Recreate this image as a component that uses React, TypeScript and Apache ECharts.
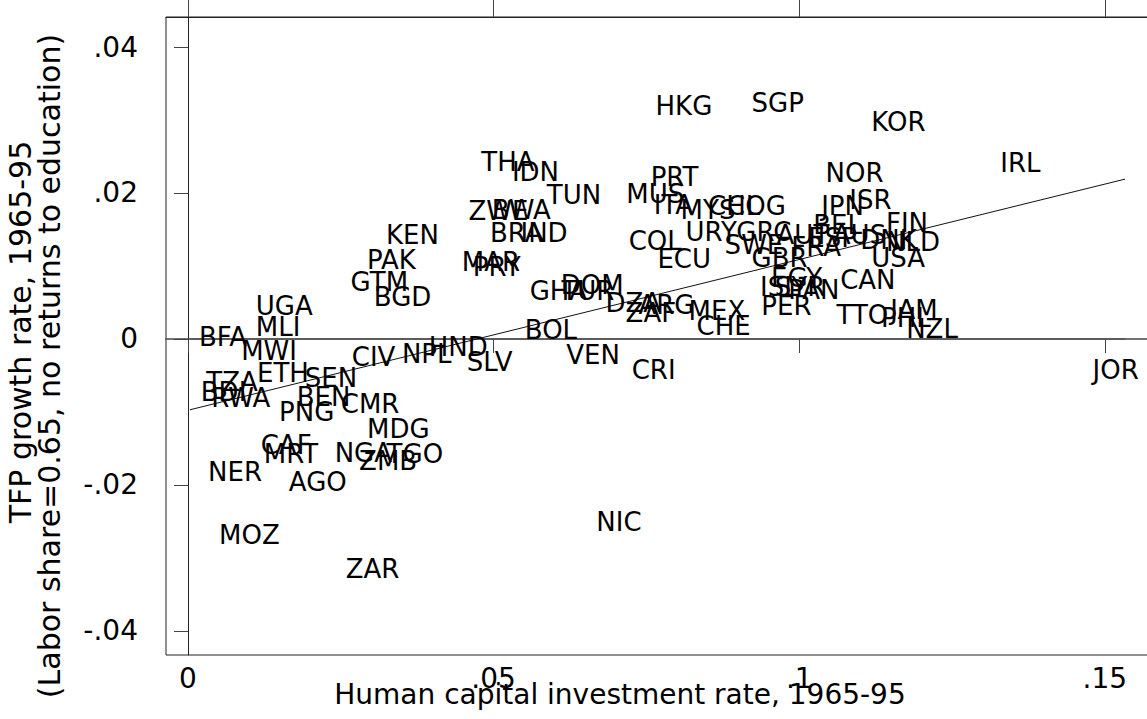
import React, { useEffect, useRef } from "react";
import * as echarts from "echarts";

// Country codes, human capital investment rate (x) and TFP growth rate (y), 1965-95
const countries = [
  "HKG", "SGP", "KOR", "IRL", "THA", "IDN", "PRT", "NOR", "MUS", "TUN",
  "ISR", "ITA", "MYS", "CHL", "COG", "JPN", "ZWE", "BWA", "BEL", "FIN",
  "KEN", "BRA", "IND", "URY", "GRC", "AUT", "ESP", "AUS", "DNK", "NLD",
  "COL", "SWE", "FRA", "GBR", "USA", "ECU", "PAK", "MAR", "PRY", "CAN",
  "EGY", "ISL", "SYR", "PAN", "GTM", "BGD", "GHA", "TUR", "DOM", "DZA",
  "ARG", "ZAF", "MEX", "CHE", "PER", "TTO", "JAM", "PHL", "NZL", "UGA",
  "MLI", "BFA", "BOL", "MWI", "HND", "NPL", "CIV", "SLV", "VEN", "CRI",
  "JOR", "ETH", "SEN", "TZA", "BDI", "RWA", "BEN", "PNG", "CMR", "MDG",
  "CAF", "MRT", "NGA", "TGO", "ZMB", "NER", "AGO", "MOZ", "ZAR", "NIC",
];

const hcInvest = [
  0.0760, 0.0917, 0.1113, 0.1324, 0.0475, 0.0525, 0.0752, 0.1038, 0.0712, 0.0582,
  0.1077, 0.0757, 0.0801, 0.0846, 0.0877, 0.1031, 0.0454, 0.0492, 0.1018, 0.1137,
  0.0319, 0.0489, 0.0539, 0.0809, 0.0892, 0.0958, 0.1010, 0.1050, 0.1095, 0.1137,
  0.0716, 0.0873, 0.0982, 0.0917, 0.1113, 0.0763, 0.0288, 0.0443, 0.0461, 0.1062,
  0.0949, 0.0931, 0.0955, 0.0977, 0.0261, 0.0299, 0.0554, 0.0606, 0.0605, 0.0678,
  0.0732, 0.0711, 0.0814, 0.0827, 0.0933, 0.1056, 0.1144, 0.1129, 0.1170, 0.0106,
  0.0106, 0.0013, 0.0546, 0.0082, 0.0389, 0.0345, 0.0263, 0.0451, 0.0614, 0.0721,
  0.1475, 0.0108, 0.0186, 0.0025, 0.0016, 0.0033, 0.0173, 0.0144, 0.0245, 0.0288,
  0.0114, 0.0119, 0.0235, 0.0320, 0.0275, 0.0028, 0.0160, 0.0046, 0.0253, 0.0663,
];

const tfpGrowth = [
  0.0319, 0.0323, 0.0297, 0.0241, 0.0242, 0.0229, 0.0222, 0.0227, 0.0199, 0.0197,
  0.0190, 0.0184, 0.0177, 0.0182, 0.0182, 0.0182, 0.0175, 0.0177, 0.0156, 0.0159,
  0.0142, 0.0145, 0.0145, 0.0147, 0.0147, 0.0142, 0.0138, 0.0142, 0.0136, 0.0133,
  0.0134, 0.0129, 0.0126, 0.0111, 0.0111, 0.0110, 0.0108, 0.0105, 0.0099, 0.0081,
  0.0084, 0.0071, 0.0071, 0.0067, 0.0078, 0.0058, 0.0066, 0.0066, 0.0074, 0.0049,
  0.0047, 0.0036, 0.0038, 0.0018, 0.0045, 0.0033, 0.0040, 0.0029, 0.0014, 0.0045,
  0.0016, 0.0003, 0.0012, -0.0016, -0.0011, -0.0021, -0.0025, -0.0032, -0.0022, -0.0042,
  -0.0042, -0.0047, -0.0053, -0.0059, -0.0073, -0.0081, -0.0079, -0.0100, -0.0089, -0.0123,
  -0.0145, -0.0158, -0.0156, -0.0158, -0.0167, -0.0182, -0.0196, -0.0268, -0.0315, -0.0251,
];

// Reference lines
const zeroLineX = [0.0003, 0.1533];
const zeroLineY = [0, 0];
const fitLineX = [0.0003, 0.1533];
const fitLineY = [-0.0097, 0.0219];

// Axis ticks
const xTicks = [0, 0.05, 0.1, 0.15];
const xTickLabels = ["0", ".05", ".1", ".15"];
const yTicks = [-0.04, -0.02, 0, 0.02, 0.04];
const yTickLabels = ["-.04", "-.02", "0", ".02", ".04"];

const xTitle = "Human capital investment rate, 1965-95";
const yTitle1 = "TFP growth rate, 1965-95";
const yTitle2 = "(Labor share=0.65, no returns to education)";

const FONT = '"DejaVu Sans", "Liberation Sans", Arial, sans-serif';

function tickLabel(values: number[], labels: string[]) {
  return (v: number) => {
    for (let i = 0; i < values.length; i++) {
      if (Math.abs(values[i] - v) < 1e-9) return labels[i];
    }
    return "";
  };
}

export default function App() {
  const ref = useRef<HTMLDivElement>(null);

  useEffect(() => {
    if (!ref.current) return;
    const chart = echarts.init(ref.current, null, { renderer: "svg" });

    const points = countries.map((c, i) => ({ name: c, value: [hcInvest[i], tfpGrowth[i]] }));

    chart.setOption({
      animation: false,
      backgroundColor: "#fff",
      grid: {
        left: 166,
        top: 17,
        right: 4,
        bottom: 64,
        show: true,
        borderColor: "#222",
        borderWidth: 1,
        containLabel: false,
      },
      xAxis: [
        {
          type: "value",
          position: "bottom",
          min: -0.0036,
          max: 0.16,
          splitLine: { show: false },
          axisLine: { show: true, lineStyle: { color: "#444", width: 1.5 } },
          axisTick: {
            show: true,
            customValues: xTicks,
            length: 14,
            inside: false,
            lineStyle: { color: "#444", width: 1 },
          },
          axisLabel: {
            show: true,
            customValues: xTicks,
            formatter: tickLabel(xTicks, xTickLabels),
            fontFamily: FONT,
            fontSize: 28,
            color: "#000",
            margin: 9,
          },
        },
        {
          type: "value",
          position: "top",
          min: -0.0036,
          max: 0.16,
          splitLine: { show: false },
          axisLine: { show: true, lineStyle: { color: "#222", width: 1 } },
          axisTick: {
            show: true,
            customValues: xTicks,
            length: 17,
            inside: false,
            lineStyle: { color: "#444", width: 1 },
          },
          axisLabel: { show: false },
        },
      ],
      yAxis: {
        type: "value",
        min: -0.04329,
        max: 0.04411,
        splitLine: { show: false },
        axisLine: { show: true, lineStyle: { color: "#222", width: 1 } },
        axisTick: {
          show: true,
          customValues: yTicks,
          length: 14,
          inside: false,
          lineStyle: { color: "#444", width: 1 },
        },
        axisLabel: {
          show: true,
          customValues: yTicks,
          formatter: tickLabel(yTicks, yTickLabels),
          fontFamily: FONT,
          fontSize: 28,
          color: "#000",
          margin: 28,
        },
      },
      graphic: [
        {
          type: "text",
          x: 620,
          y: 694,
          style: {
            text: xTitle,
            font: `28px ${FONT}`,
            fill: "#000",
            textAlign: "center",
            textVerticalAlign: "middle",
          },
        },
        {
          type: "text",
          x: 20,
          y: 332,
          rotation: Math.PI / 2,
          style: {
            text: yTitle1,
            font: `30px ${FONT}`,
            fill: "#000",
            textAlign: "center",
            textVerticalAlign: "middle",
          },
        },
        {
          type: "text",
          x: 49,
          y: 366,
          rotation: Math.PI / 2,
          style: {
            text: yTitle2,
            font: `30px ${FONT}`,
            fill: "#000",
            textAlign: "center",
            textVerticalAlign: "middle",
          },
        },
      ],
      series: [
        {
          type: "line",
          data: zeroLineX.map((x, i) => [x, zeroLineY[i]]),
          symbol: "none",
          lineStyle: { color: "#555", width: 1.4 },
          silent: true,
          z: 1,
        },
        {
          type: "line",
          data: fitLineX.map((x, i) => [x, fitLineY[i]]),
          symbol: "none",
          lineStyle: { color: "#111", width: 1 },
          silent: true,
          z: 1,
        },
        {
          type: "scatter",
          data: points,
          symbolSize: 0,
          itemStyle: { color: "#000", opacity: 1 },
          label: {
            show: true,
            position: "right",
            distance: 3,
            formatter: "{b}",
            fontFamily: FONT,
            fontSize: 26,
            color: "#000",
            opacity: 1,
          },
          emphasis: { disabled: true },
          z: 3,
        },
      ],
    });

    return () => chart.dispose();
  }, []);

  return (
    <div style={{ position: "absolute", left: 0, top: 0, width: 1147, height: 719, overflow: "hidden", background: "#fff" }}>
      <div ref={ref} style={{ width: 1170, height: 719 }} />
    </div>
  );
}
